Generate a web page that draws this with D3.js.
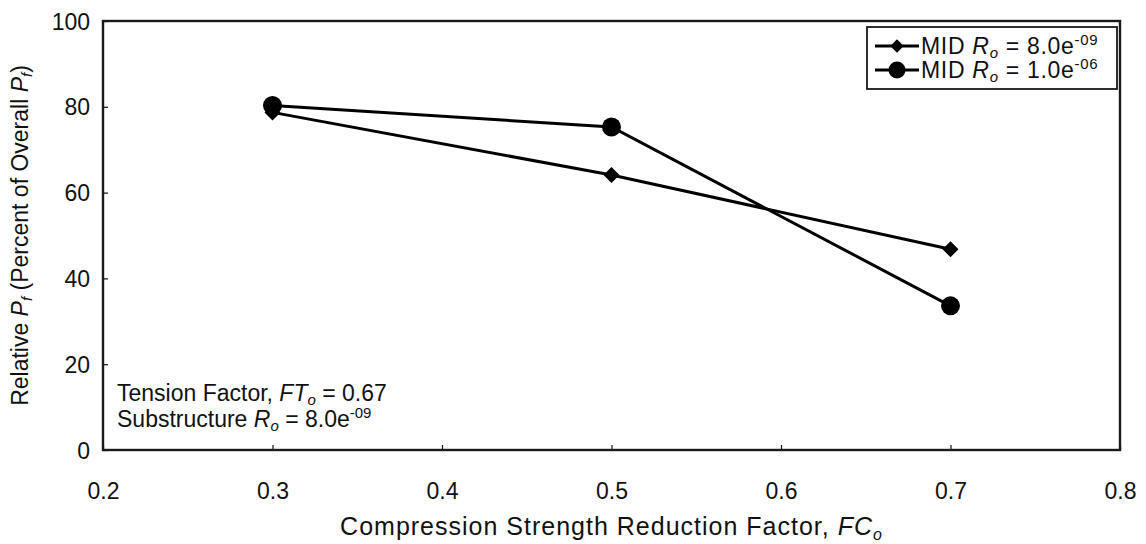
<!DOCTYPE html>
<html>
<head>
<meta charset="utf-8">
<script src="https://cdn.jsdelivr.net/npm/d3@7"></script>
<style>
  html, body { margin: 0; padding: 0; background: #fff; }
  svg { display: block; font-family: "Liberation Sans", Arial, sans-serif; }
</style>
</head>
<body>
<svg id="chart" width="1146" height="544"></svg>
<script>
// Compression strength reduction factors (x values)
const factors = [0.3, 0.5, 0.7];
// Relative Pf (% of overall Pf) for each MID Ro
const midLow = [78.7, 64.1, 46.8];   // MID Ro = 8.0e-09 (diamonds)
const midHigh = [80.3, 75.3, 33.6];  // MID Ro = 1.0e-06 (circles)
const xTicks = [0.2, 0.3, 0.4, 0.5, 0.6, 0.7, 0.8];
const yTicks = [0, 20, 40, 60, 80, 100];

const FS = 23, SUB = 15;
const svg = d3.select("#chart");
const plotL = 103, plotR = 1120, plotT = 21, plotB = 450;

const x = d3.scaleLinear().domain([0.2, 0.8]).range([plotL, plotR]);
const y = d3.scaleLinear().domain([0, 100]).range([plotB, plotT]);

// Axes with short inward ticks
const xAxis = d3.axisBottom(x).tickValues(xTicks).tickSize(-5).tickFormat(d3.format(".1f"));
const yAxis = d3.axisLeft(y).tickValues(yTicks).tickSize(-5).tickFormat(d3.format("d"));

const gx = svg.append("g").attr("transform", `translate(0,${plotB})`).call(xAxis);
gx.select(".domain").remove();
gx.selectAll(".tick line").attr("stroke", "#111").attr("stroke-width", 1.2);
gx.selectAll(".tick text").attr("font-size", FS).attr("fill", "#111")
  .attr("y", 49).attr("dy", "0");
const gy = svg.append("g").attr("transform", `translate(${plotL},0)`).call(yAxis);
gy.select(".domain").remove();
gy.selectAll(".tick line").attr("stroke", "#111").attr("stroke-width", 1.2);
gy.selectAll(".tick text").attr("font-size", FS).attr("fill", "#111")
  .attr("x", -13).attr("dy", "0.35em");

// Plot frame
svg.append("rect")
  .attr("x", plotL).attr("y", plotT)
  .attr("width", plotR - plotL).attr("height", plotB - plotT)
  .attr("fill", "none").attr("stroke", "#1a1a1a").attr("stroke-width", 2.4);

// Series lines
const line = d3.line().x((d, i) => x(factors[i])).y(d => y(d));
svg.append("path").datum(midLow).attr("d", line)
  .attr("fill", "none").attr("stroke", "#000").attr("stroke-width", 3);
svg.append("path").datum(midHigh).attr("d", line)
  .attr("fill", "none").attr("stroke", "#000").attr("stroke-width", 3);

const diamond = d3.symbol().type(d3.symbolSquare).size(128);
svg.append("g").selectAll("path").data(midLow).join("path")
  .attr("d", diamond)
  .attr("transform", (d, i) => `translate(${x(factors[i])},${y(d)}) rotate(45)`)
  .attr("fill", "#000");
svg.append("g").selectAll("circle").data(midHigh).join("circle")
  .attr("cx", (d, i) => x(factors[i])).attr("cy", d => y(d))
  .attr("r", 9.5).attr("fill", "#000");

// Legend
const lg = svg.append("g");
lg.append("rect").attr("x", 867).attr("y", 27).attr("width", 250).attr("height", 62)
  .attr("fill", "#fff").attr("stroke", "#1a1a1a").attr("stroke-width", 1.8);
const legendRows = [
  { y: 46, shape: "diamond", exp: "-09", base: "8.0e" },
  { y: 70, shape: "circle", exp: "-06", base: "1.0e" }
];
legendRows.forEach(r => {
  lg.append("line").attr("x1", 875).attr("x2", 919).attr("y1", r.y).attr("y2", r.y)
    .attr("stroke", "#000").attr("stroke-width", 3);
  if (r.shape === "diamond") {
    lg.append("path").attr("d", d3.symbol().type(d3.symbolSquare).size(90)).attr("fill", "#000")
      .attr("transform", `translate(897,${r.y}) rotate(45)`);
  } else {
    lg.append("circle").attr("cx", 897).attr("cy", r.y).attr("r", 8.5).attr("fill", "#000");
  }
  const t = lg.append("text").attr("x", 921).attr("y", r.y).attr("dy", "0.35em")
    .attr("font-size", FS).attr("letter-spacing", 0.7).attr("fill", "#111");
  t.append("tspan").text("MID ");
  t.append("tspan").attr("font-style", "italic").text("R");
  t.append("tspan").attr("font-style", "italic").attr("font-size", SUB).attr("dy", 4).text("o");
  t.append("tspan").attr("dy", -4).text(" = " + r.base);
  t.append("tspan").attr("font-size", SUB).attr("dy", -9).text(r.exp);
});

// Annotation of fixed parameters
const a1 = svg.append("text").attr("x", 117).attr("y", 401).attr("font-size", FS).attr("fill", "#111");
a1.append("tspan").text("Tension Factor, ");
a1.append("tspan").attr("font-style", "italic").text("FT");
a1.append("tspan").attr("font-style", "italic").attr("font-size", SUB).attr("dy", 4).text("o");
a1.append("tspan").attr("dy", -4).text(" = 0.67");
const a2 = svg.append("text").attr("x", 117).attr("y", 427).attr("font-size", FS).attr("fill", "#111");
a2.append("tspan").text("Substructure ");
a2.append("tspan").attr("font-style", "italic").text("R");
a2.append("tspan").attr("font-style", "italic").attr("font-size", SUB).attr("dy", 4).text("o");
a2.append("tspan").attr("dy", -4).text(" = 8.0e");
a2.append("tspan").attr("font-size", SUB).attr("dy", -9).text("-09");

// Axis titles
const xt = svg.append("text").attr("x", (plotL + plotR) / 2).attr("y", 535)
  .attr("text-anchor", "middle").attr("font-size", 25).attr("letter-spacing", 1).attr("fill", "#111");
xt.append("tspan").text("Compression Strength Reduction Factor, ");
xt.append("tspan").attr("font-style", "italic").text("FC");
xt.append("tspan").attr("font-style", "italic").attr("font-size", SUB + 1).attr("dy", 5).text("o");

const yt = svg.append("text")
  .attr("transform", `translate(28,${(plotT + plotB) / 2}) rotate(-90)`)
  .attr("text-anchor", "middle").attr("font-size", FS).attr("fill", "#111");
yt.append("tspan").text("Relative ");
yt.append("tspan").attr("font-style", "italic").text("P");
yt.append("tspan").attr("font-style", "italic").attr("font-size", SUB).attr("dy", 4).text("f");
yt.append("tspan").attr("dy", -4).text(" (Percent of Overall ");
yt.append("tspan").attr("font-style", "italic").text("P");
yt.append("tspan").attr("font-style", "italic").attr("font-size", SUB).attr("dy", 4).text("f");
yt.append("tspan").attr("dy", -4).text(")");
</script>
</body>
</html>
